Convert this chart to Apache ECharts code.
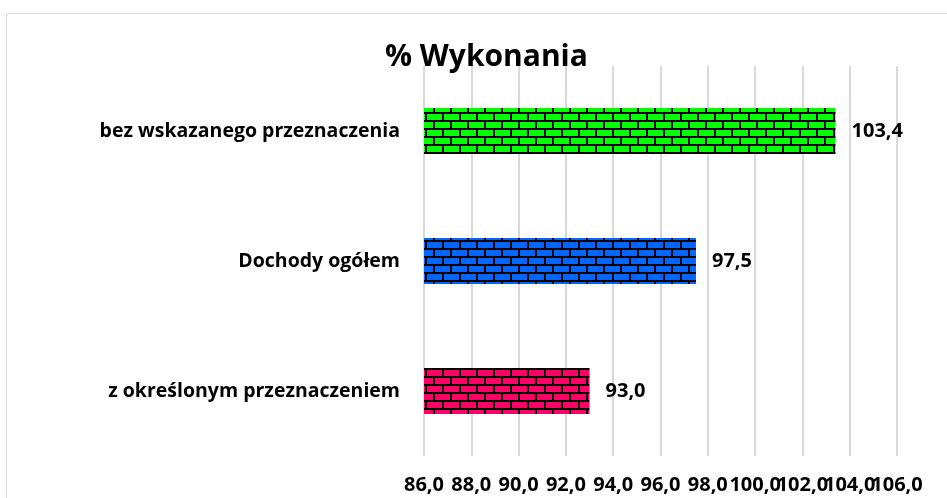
<!DOCTYPE html>
<html>

<head>
    <meta charset="utf-8" />
    <script src="https://cdn.jsdelivr.net/npm/echarts@6/dist/echarts.min.js"></script>
</head>

<body style="margin:0;">
    <div id="main" style="width: 947px; height:498px;"></div>
    <script type="text/javascript">
        // dane
        var categories = ['z określonym przeznaczeniem', 'Dochody ogółem', 'bez wskazanego przeznaczenia'];
        var values = [93.0, 97.5, 103.4];
        var barColors = ['#ff0066', '#0066ff', '#00ff00'];
        var axisMin = 86, axisMax = 106, axisStep = 2;

        // wzór cegieł
        function brick(color) {
            var c = document.createElement('canvas');
            c.width = 17;
            c.height = 16;
            var ctx = c.getContext('2d');
            ctx.fillStyle = '#000';
            ctx.fillRect(0, 0, 17, 16);
            ctx.fillStyle = color;
            ctx.fillRect(2, 2, 15, 6);
            ctx.fillRect(0, 10, 8, 6);
            ctx.fillRect(10, 10, 7, 6);
            return { image: c, repeat: 'repeat' };
        }

        function fmt(v) {
            return Number(v).toFixed(1).replace('.', ',');
        }

        var myChart = echarts.init(document.getElementById('main'));
        var font = '"Open Sans", sans-serif';
        var labelStyle = {
            margin: 19,
            color: '#000',
            fontFamily: font,
            fontWeight: 'bold',
            fontSize: 20,
            hideOverlap: false
        };

        var option = {
            animation: false,
            backgroundColor: '#fff',
            title: {
                text: '% Wykonania',
                left: 380,
                top: 37,
                textStyle: { fontFamily: font, fontWeight: 'bold', fontSize: 30, color: '#000' }
            },
            graphic: [{
                type: 'rect',
                shape: { x: 6.5, y: 13.5, width: 1000, height: 600 },
                style: { fill: 'none', stroke: '#d9d9d9', lineWidth: 1 },
                silent: true
            }],
            grid: { left: 424, right: 50, top: 66, bottom: 42 },
            xAxis: [{
                type: 'value',
                min: axisMin,
                max: axisMax,
                interval: axisStep,
                axisLine: { show: false },
                axisTick: { show: false },
                splitLine: { lineStyle: { color: '#d9d9d9', width: 2 } },
                axisLabel: Object.assign({
                    formatter: fmt,
                    showMinLabel: true,
                    showMaxLabel: false
                }, labelStyle)
            }, {
                // osobna oś tylko dla ostatniej etykiety (nachodzi na poprzednią)
                type: 'value',
                position: 'bottom',
                min: axisMin,
                max: axisMax,
                interval: axisStep,
                axisLine: { show: false },
                axisTick: { show: false },
                splitLine: { show: false },
                axisLabel: Object.assign({
                    formatter: function (v) { return v === axisMax ? fmt(v) : ''; },
                    showMaxLabel: true
                }, labelStyle)
            }],
            yAxis: {
                type: 'category',
                data: categories,
                axisLine: { show: false },
                axisTick: { show: false },
                axisLabel: {
                    margin: 24,
                    color: '#000',
                    fontFamily: font,
                    fontWeight: 'bold',
                    fontSize: 19.5
                }
            },
            series: [{
                type: 'bar',
                barWidth: 46,
                data: values.map(function (v, i) {
                    return { value: v, itemStyle: { color: brick(barColors[i]) } };
                }),
                label: {
                    show: true,
                    position: 'right',
                    distance: 16,
                    formatter: function (p) { return fmt(p.value); },
                    color: '#000',
                    fontFamily: font,
                    fontWeight: 'bold',
                    fontSize: 20
                }
            }]
        };

        myChart.setOption(option);
    </script>
</body>

</html>
